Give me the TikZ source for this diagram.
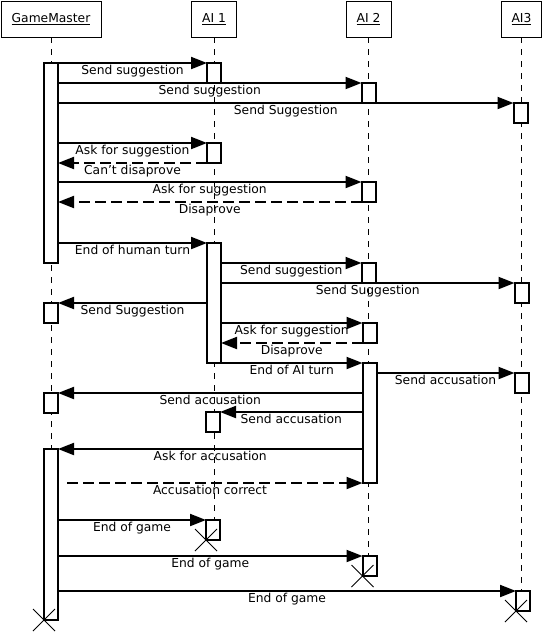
\documentclass[tikz,border=0pt]{standalone}
\usepackage{fontspec}
\setmainfont{DejaVu Sans}
\usetikzlibrary{arrows.meta,calc,backgrounds}

\begin{document}
\begin{tikzpicture}[
    x=1pt, y=-1pt,
    >={Triangle[length=16pt,width=12pt]},
    head/.style={
        draw,
        line width=0.8pt,
        minimum height=36pt,
        inner sep=0pt,
        font=\fontsize{12.3}{14}\selectfont
    },
    act/.style={draw, fill=white, line width=2pt, minimum width=14pt,
        inner sep=0pt, outer sep=0pt, anchor=north},
    life/.style={line width=1pt, dash pattern=on 6pt off 6pt},
    msg/.style={->, line width=2pt},
    reply/.style={->, line width=2pt, dash pattern=on 11pt off 5pt},
    lbl/.style={midway, anchor=base, yshift=-11pt, inner sep=0pt,
        font=\fontsize{12.3}{14}\selectfont},
    cross/.style={line width=0.8pt}
]
\useasboundingbox (0,0) rectangle (543,633);

% Heads.
\node[head, minimum width=100pt] (gm)  at (51,19)    {\underline{GameMaster}};
\node[head, minimum width=45pt]  (ai1) at (214,19)   {\underline{AI 1}};
\node[head, minimum width=45pt]  (ai2) at (368.5,19) {\underline{AI 2}};
\node[head, minimum width=40pt]  (ai3) at (521.5,19) {\underline{AI3}};

% Activations.
\node[act, minimum height=200pt] (gmA) at (51,63)  {};
\node[act, minimum height=20pt]  (gmB) at (51,303) {};
\node[act, minimum height=20pt]  (gmC) at (51,393) {};
\node[act, minimum height=171pt] (gmD) at (51,449) {};

\node[act, minimum height=20pt]  (a1A) at (214,63)  {};
\node[act, minimum height=20pt]  (a1B) at (214,143) {};
\node[act, minimum height=120pt] (a1C) at (214,243) {};
\node[act, minimum height=20pt]  (a1D) at (213,412) {};
\node[act, minimum height=20pt]  (a1E) at (213,520) {};

\node[act, minimum height=20pt]  (a2A) at (368.5,83)  {};
\node[act, minimum height=20pt]  (a2B) at (368.5,182) {};
\node[act, minimum height=20pt]  (a2C) at (368.5,263) {};
\node[act, minimum height=20pt]  (a2D) at (369.5,323) {};
\node[act, minimum height=120pt] (a2E) at (369.5,363) {};
\node[act, minimum height=20pt]  (a2F) at (369.5,556) {};

\node[act, minimum height=20pt]  (a3A) at (520.5,103) {};
\node[act, minimum height=20pt]  (a3B) at (521.5,283) {};
\node[act, minimum height=20pt]  (a3C) at (521.5,373) {};
\node[act, minimum height=20pt]  (a3D) at (523,591)   {};

% Lifelines.
\begin{pgfonlayer}{background}
\foreach \h/\e in {gm/gmD, ai1/a1E, ai2/a2F, ai3/a3D} {
    \draw[life] (\h.south) -- (\h.south |- \e.north);
}
\end{pgfonlayer}

% Human turn.
\draw[msg] (gmA.north east) -- (a1A.north west) node[lbl] {Send suggestion};
\draw[msg] (gmA.east |- a2A.north) -- (a2A.north west) node[lbl] {Send suggestion};
\draw[msg] (gmA.east |- a3A.north) -- (a3A.north west) node[lbl] {Send Suggestion};
\draw[msg] (gmA.east |- a1B.north) -- (a1B.north west) node[lbl] {Ask for suggestion};
\draw[reply] (a1B.south west) -- (gmA.east |- a1B.south) node[lbl] {Can't disaprove};
\draw[msg] (gmA.east |- a2B.north) -- (a2B.north west) node[lbl] {Ask for suggestion};
\draw[reply] (a2B.south west) -- (gmA.east |- a2B.south) node[lbl] {Disaprove};
\draw[msg] (gmA.east |- a1C.north) -- (a1C.north west) node[lbl] {End of human turn};

% AI 1 turn.
\draw[msg] (a1C.east |- a2C.north) -- (a2C.north west) node[lbl] {Send suggestion};
\draw[msg] (a1C.east |- a3B.north) -- (a3B.north west) node[lbl] {Send Suggestion};
\draw[msg] (a1C.west |- gmB.north) -- (gmB.north east) node[lbl] {Send Suggestion};
\draw[msg] (a1C.east |- a2D.north) -- (a2D.north west) node[lbl] {Ask for suggestion};
\draw[reply] (a2D.south west) -- (a1C.east |- a2D.south) node[lbl] {Disaprove};
\draw[msg] (a1C.south east) -- (a2E.north west) node[lbl] {End of AI turn};

% AI 2 turn.
\draw[msg] (a2E.east |- a3C.north) -- (a3C.north west) node[lbl] {Send accusation};
\draw[msg] (a2E.west |- gmC.north) -- (gmC.north east) node[lbl] {Send accusation};
\draw[msg] (a2E.west |- a1D.north) -- (a1D.north east) node[lbl] {Send accusation};
\draw[msg] (a2E.west |- gmD.north) -- (gmD.north east) node[lbl] {Ask for accusation};
\draw[reply] ($(gmD.east |- a2E.south)+(9,0)$) -- (a2E.south west)
    node[lbl, pos=0.484] {Accusation correct};

% End of game.
\draw[msg] (gmD.east |- a1E.north) -- (a1E.north west) node[lbl] {End of game};
\draw[msg] (gmD.east |- a2F.north) -- (a2F.north west) node[lbl] {End of game};
\draw[msg] (gmD.east |- a3D.north) -- (a3D.north west) node[lbl] {End of game};
\foreach \n in {gmD, a1E, a2F, a3D} {
    \draw[cross] (\n.south west) ++(-11,-11) -- ++(22,22) ++(0,-22) -- ++(-22,22);
}

\end{tikzpicture}
\end{document}
